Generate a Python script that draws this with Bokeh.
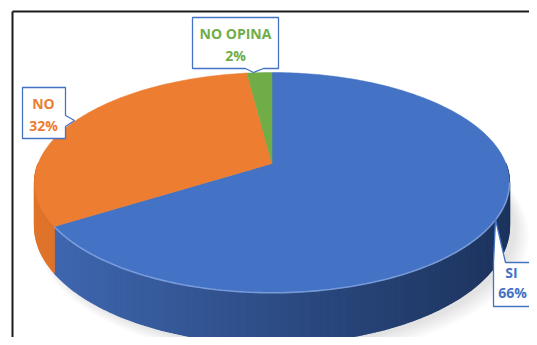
import numpy as np
from bokeh.plotting import figure
from bokeh.models import Range1d
from bokeh.embed import file_html
from bokeh.resources import INLINE
from bokeh.core.properties import value

# ---- data ----
categories = ["SI", "NO", "NO OPINA"]
values = [66, 32, 2]
top_colors = ["#4472C4", "#ED7D31", "#70AD47"]
side_left = ["#416AB5", "#E0742B", "#63993D"]
side_right = ["#1C335D", "#B4561A", "#4A7A2C"]
label_colors = ["#4472C4", "#ED7D31", "#70AD47"]

# callout layout: outline polygon with pointer, and text centres
boxes = {
    "NO OPINA": dict(poly=[(184, 9), (270, 9), (270, 60), (255, 60), (245, 64), (237, 60), (184, 60)],
                     text=(227, 25), pct=(227, 47)),
    "NO": dict(poly=[(14, 79), (57, 79), (57, 107), (66, 112), (57, 118), (57, 130), (14, 130)],
               text=(35, 95), pct=(35, 117)),
    "SI": dict(poly=[(485, 254), (487, 211), (497, 254), (545, 254), (545, 298), (485, 298)],
               text=(503, 264), pct=(504, 284)),
}

W, H = 529, 337
OFF = 8
p = figure(width=W, height=H, output_backend="svg", toolbar_location=None,
           x_range=Range1d(-OFF, W - OFF), y_range=Range1d(H - OFF, -OFF),
           x_axis_type=None, y_axis_type=None, min_border=0)
p.outline_line_color = None
p.background_fill_color = "white"
p.border_fill_color = "white"

# ---- perspective pie geometry ----
CX, CY = 263.5, 155.0
A, B, K = 233.9, 106.8, 0.1736
DEPTH = 42.1


def proj(phi_deg, drop=0.0):
    ph = np.radians(np.asarray(phi_deg, dtype=float))
    den = 1 + K * np.cos(ph)
    x = CX + A * np.sin(ph) / den
    y = CY - B * np.cos(ph) / den + drop / den
    return x, y


def hex2rgb(h):
    h = h.lstrip("#")
    return np.array([int(h[i:i + 2], 16) for i in (0, 2, 4)], dtype=float)


def lerp(c1, c2, t):
    c = hex2rgb(c1) * (1 - t) + hex2rgb(c2) * t
    return "#%02x%02x%02x" % tuple(int(round(v)) for v in c)


total = float(sum(values))
ends = np.cumsum(values) / total * 360.0
starts = np.concatenate([[0.0], ends[:-1]])

# ---- soft shadow (towards lower right) ----
full = np.linspace(0, 360, 181)
for i in range(7):
    sx, sy = proj(full, DEPTH)
    s = 1 + 0.006 * i
    xs = CX + (sx - CX) * s + 6 + i * 0.8
    ys = CY + (sy - CY) * s + 3 + i * 0.8
    p.patch(list(xs), list(ys), fill_color="#808080", fill_alpha=0.03, line_color=None)

# ---- side walls (front half only) ----
xmin, xmax = CX - A * 1.0154, CX + A * 1.0154
sxs, sys, scol = [], [], []
for k in range(len(values)):
    a0, a1 = max(starts[k], 90.0), min(ends[k], 270.0)
    if a1 <= a0:
        continue
    n = max(2, int((a1 - a0) / 1.0) + 1)
    ang = np.linspace(a0, a1, n)
    for j in range(n - 1):
        seg = np.array([ang[j], ang[j + 1]])
        tx, ty = proj(seg)
        bx, by = proj(seg, DEPTH)
        sxs.append([tx[0], tx[1], bx[1], bx[0]])
        sys.append([ty[0], ty[1], by[1], by[0]])
        t = float(np.clip((tx.mean() - xmin) / (xmax - xmin), 0, 1))
        scol.append(lerp(side_left[k], side_right[k], t ** 0.9))
p.patches(sxs, sys, fill_color=scol, line_color=scol, line_width=1.2)

# ---- top faces ----
for k in range(len(values)):
    ang = np.linspace(starts[k], ends[k], max(3, int(ends[k] - starts[k]) + 2))
    ax, ay = proj(ang)
    xs = [CX] + list(ax)
    ys = [CY] + list(ay)
    p.patch(xs, ys, fill_color=top_colors[k], line_color=top_colors[k], line_width=0.5)

# rim highlight on the front edge of the blue slice
ang = np.linspace(100, ends[0], 120)
rx, ry = proj(ang)
p.line(list(rx), list(ry), line_color="#86A8E2", line_width=1.6, line_alpha=0.8)

# ---- callouts ----
for k, cat in enumerate(categories):
    b = boxes[cat]
    px = [pt[0] for pt in b["poly"]]
    py = [pt[1] for pt in b["poly"]]
    p.patch(px, py, fill_color="white", line_color="#4472C4", line_width=1.3)
    p.text(x=[b["text"][0], b["pct"][0]], y=[b["text"][1], b["pct"][1]],
           text=[cat, f"{values[k]}%"], text_color=label_colors[k],
           text_font=value("Open Sans"), text_font_style="bold", text_font_size="14px",
           text_align="center", text_baseline="middle")

# ---- chart border (left and top edges visible) ----
p.line([4, 4], [H + 5, 3], line_color="#1a1a1a", line_width=2)
p.line([4, W + 5], [3, 3], line_color="#1a1a1a", line_width=2)

open("out.html", "w").write(file_html(p, INLINE))
